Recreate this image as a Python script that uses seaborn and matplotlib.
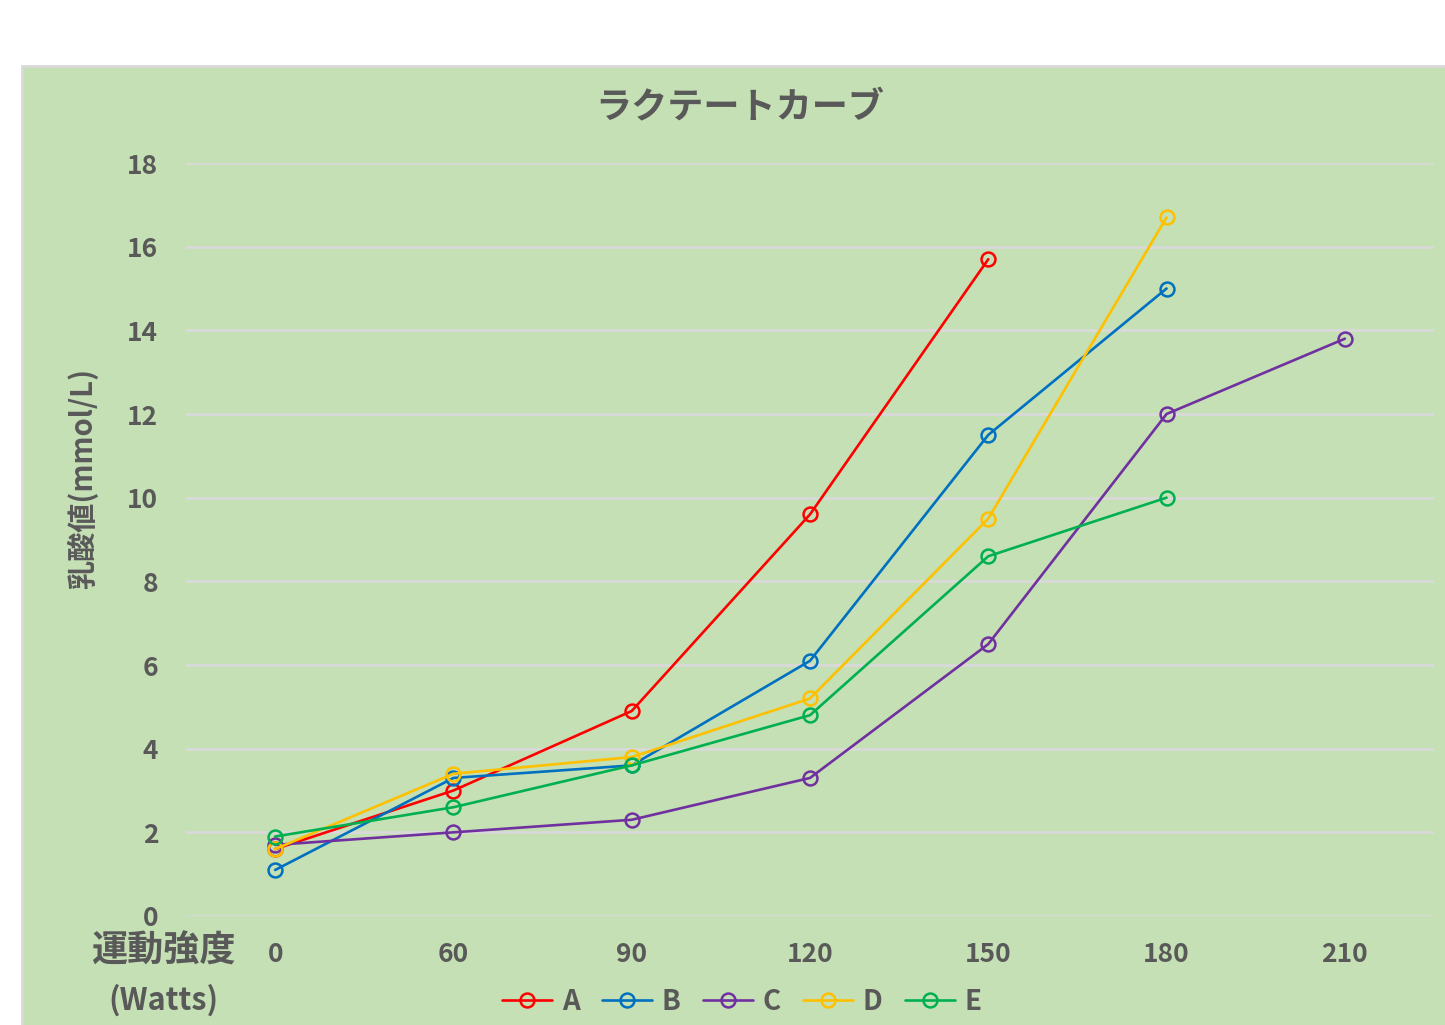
import numpy as np
import pandas as pd
import matplotlib
matplotlib.use("Agg")
import matplotlib.pyplot as plt
from matplotlib.patches import Rectangle
import seaborn as sns

# ---- data ----
watts = ["0", "60", "90", "120", "150", "180", "210"]
series_names = ["A", "B", "C", "D", "E"]
A = [1.6, 3.0, 4.9, 9.6, 15.7, np.nan, np.nan]
B = [1.1, 3.3, 3.6, 6.1, 11.5, 15.0, np.nan]
C = [1.7, 2.0, 2.3, 3.3, 6.5, 12.0, 13.8]
D = [1.6, 3.4, 3.8, 5.2, 9.5, 16.7, np.nan]
E = [1.9, 2.6, 3.6, 4.8, 8.6, 10.0, np.nan]
colors = ["#FF0000", "#0070C0", "#7030A0", "#FFC000", "#00B050"]

rows = []
for name, vals in zip(series_names, [A, B, C, D, E]):
    for i, v in enumerate(vals):
        if not np.isnan(v):
            rows.append({"pos": i, "value": v, "series": name})
df = pd.DataFrame(rows)

sns.set_theme(style="white")
plt.rcParams["font.family"] = ["Noto Sans CJK JP", "DejaVu Sans"]

GREEN = "#C5E0B4"
GRAY = "#595959"

fig = plt.figure(figsize=(14.45, 10.25), dpi=100)
fig.patch.set_facecolor("white")
panel = Rectangle((22 / 1445, -0.01), 1.0, 1 - 66 / 1025 + 0.01,
                  transform=fig.transFigure, facecolor=GREEN,
                  edgecolor="#D9D9D9", linewidth=2, zorder=-10)
fig.patches.append(panel)

ax = fig.add_axes([186 / 1445, 1 - 916 / 1025, (1434 - 186) / 1445, (916 - 163) / 1025])
ax.set_facecolor(GREEN)
ax.patch.set_alpha(0.0)

sns.lineplot(data=df, x="pos", y="value", hue="series", hue_order=series_names,
             palette=colors, marker="o", markerfacecolor="none", markersize=10,
             markeredgewidth=1.8, linewidth=1.9, errorbar=None, legend=False,
             sort=False, ax=ax)
for ln in ax.lines:
    ln.set_markeredgecolor(ln.get_color())
    ln.set_markerfacecolor("none")

ax.set_xlim(-0.5, 6.5)
ax.set_ylim(0, 18)
ax.set_yticks(np.arange(0, 19, 2))
ax.set_xticks(range(len(watts)))
ax.set_xticklabels(watts)
ax.grid(axis="y", color="#D9D9D9", linewidth=2)
ax.set_axisbelow(True)
for s in ax.spines.values():
    s.set_visible(False)
ax.tick_params(axis="both", length=0, labelsize=19, labelcolor=GRAY)
ax.tick_params(axis="y", pad=20)
ax.tick_params(axis="x", pad=18)
for lab in ax.get_xticklabels() + ax.get_yticklabels():
    lab.set_fontweight("bold")
ax.set_xlabel("")
ax.set_ylabel("")

fig.text(83 / 1445, 1 - 478 / 1025, "乳酸値(mmol/L)", rotation=90, ha="center",
         va="center", fontsize=21, color=GRAY, fontweight="bold")
fig.text(163 / 1445, 1 - 951 / 1025, "運動強度", ha="center", va="center",
         fontsize=26, color=GRAY, fontweight="bold")
fig.text(163 / 1445, 1 - 1000 / 1025, "(Watts)", ha="center", va="center",
         fontsize=22, color=GRAY, fontweight="bold")
fig.text(740 / 1445, 1 - 108 / 1025, "ラクテートカーブ", ha="center", va="center",
         fontsize=26, color=GRAY, fontweight="bold")

handles = ax.lines[:5]
leg = fig.legend(handles, series_names, loc="center", bbox_to_anchor=(742 / 1445, 1 - 1002 / 1025),
                 ncol=5, frameon=False, fontsize=20, handlelength=1.8, handletextpad=0.35,
                 columnspacing=0.8, numpoints=1, labelcolor=GRAY)
for t in leg.get_texts():
    t.set_fontweight("bold")

fig.savefig("out.png", dpi=100, facecolor=fig.get_facecolor())
